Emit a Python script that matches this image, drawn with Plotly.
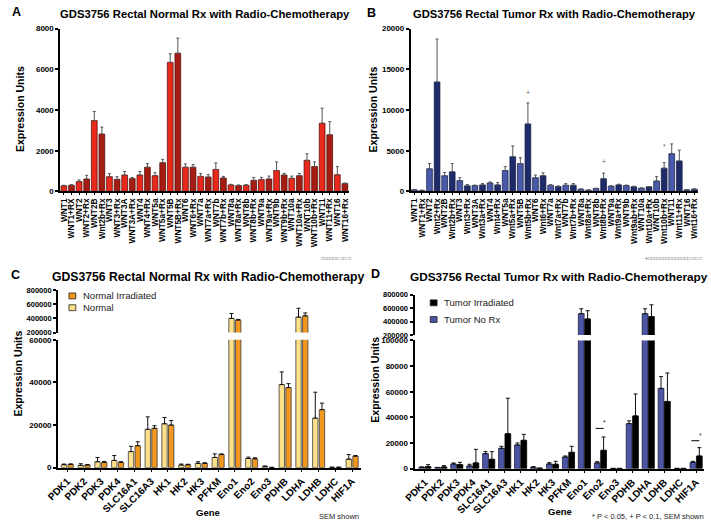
import plotly.graph_objects as go

W, H = 711, 527
def px(p): return p / W
def py(p): return 1 - p / H

# ---------------- data ----------------
A_labels = ["WNT1", "WNT1+RX", "WNT2", "WNT2+Rx", "WNT2B", "Wnt2b+Rx", "WNT3", "WNT3+Rx", "WNT3A", "WNT3A+Rx",
            "WNT4", "WNT4+Rx", "WNT5a", "WNT5a+Rx", "WNT5B", "WNT5B+Rx", "WNT6", "WNT6+Rx", "WNT7a", "WNT7a+Rx",
            "WNT7b", "WNT7b+Rx", "WNT8a", "WNT8a+Rx", "WNT8b", "WNT8b+Rx", "WNT9a", "WNT9a+Rx", "WNT9b", "WNT9b+Rx",
            "WNT10a", "WNT10a+Rx", "WNT10b", "WNT10b+Rx", "WNT11", "WNT11+Rx", "WNT16", "WNT16+Rx"]
A_vals = [275, 305, 485, 610, 3480, 2820, 725, 595, 805, 630, 805, 1190, 775, 1415, 6340, 6790, 1190, 1190, 740, 710,
          1080, 660, 320, 290, 305, 545, 580, 610, 1030, 805, 645, 775, 1530, 1225, 3350, 2785, 820, 385]
A_sem = [30, 30, 80, 180, 450, 340, 145, 130, 175, 50, 175, 175, 145, 160, 420, 740, 160, 130, 145, 115,
         320, 80, 30, 30, 30, 145, 110, 145, 420, 80, 110, 110, 320, 225, 740, 645, 400, 30]

B_labels = ["WNT1", "WNT1+Rx", "WNT2", "Wnt2+Rx", "WNT2B", "Wnt2b+Rx", "WNT3", "Wnt3+Rx", "WNT3A", "Wnt3a+Rx",
            "WNT4", "Wnt4+Rx", "WNT5a", "Wnt5a+Rx", "WNT5B", "Wnt5b+Rx", "WNT6", "Wnt6+Rx", "WNT7a", "Wnt7a+Rx",
            "WNT7b", "Wnt7b+Rx", "WNT8a", "Wnt8a+Rx", "WNT8b", "Wnt8b+Rx", "WNT9a", "Wnt9a+Rx", "WNT9b", "Wnt9ab+Rx",
            "WNT10a", "Wnt10a+Rx", "WNT10b", "Wnt10b+Rx", "WNT11", "Wnt11+Rx", "WNT16", "Wnt16+Rx"]
B_vals = [200, 120, 2780, 13440, 1930, 2410, 1330, 685, 725, 805, 1045, 805, 2575, 4265, 3420, 8290, 1690, 1930, 765, 605,
          765, 765, 280, 160, 360, 1570, 645, 805, 725, 565, 400, 565, 1290, 2860, 4630, 3745, 200, 280]
B_sem = [40, 40, 645, 5270, 400, 1005, 360, 160, 60, 160, 120, 280, 480, 1330, 725, 2575, 320, 360, 60, 80,
         200, 200, 40, 40, 40, 685, 60, 80, 60, 80, 40, 40, 520, 685, 1205, 1325, 40, 40]
B_marks = ["+", "+", "*"]
B_mark_idx = [15, 25, 33]
B_mark_y = [12190, 3620, 5510]

genes = ["PDK1", "PDK2", "PDK3", "PDK4", "SLC16A1", "SLC16A3", "HK1", "HK2", "HK3", "PFKM",
         "Eno1", "Eno2", "Eno3", "PDHB", "LDHA", "LDHB", "LDHC", "HIF1A"]
C_normal = [1385, 1080, 2770, 3380, 7540, 18000, 20600, 1230, 2000, 4770, 400000, 4300, 615, 39000, 418000, 23230, 150, 4000]
C_normal_sem = [300, 770, 2000, 2310, 2460, 5850, 2940, 460, 770, 1690, 69000, 620, 100, 5950, 125000, 12200, 50, 2150]
C_irr = [1540, 1230, 2460, 2460, 10300, 18460, 20000, 1385, 2000, 6150, 377000, 4150, 100, 37600, 436000, 27230, 150, 5380]
C_irr_sem = [200, 200, 460, 310, 1850, 1240, 2150, 200, 300, 300, 9000, 460, 50, 1850, 41000, 3070, 50, 310]

D_norx = [1040, 780, 3640, 2080, 11700, 15840, 18440, 1040, 3640, 9090, 517000, 4420, 150, 35100, 517000, 62600, 150, 4940]
D_norx_sem = [300, 200, 760, 1300, 1550, 1560, 1560, 520, 1040, 780, 73000, 1030, 50, 2200, 73000, 9200, 50, 760]
D_irr = [1560, 1300, 3120, 4420, 7270, 27270, 22080, 300, 3380, 12730, 438000, 14290, 150, 41150, 473000, 52400, 150, 9870]
D_irr_sem = [1560, 1040, 1780, 10640, 5980, 27670, 4670, 100, 2330, 4670, 123000, 10390, 50, 17090, 176000, 22200, 50, 6490]
D_sig_idx = [11, 17]
D_sig_y = [31400, 21760]

A_ticks = [0, 2000, 4000, 6000, 8000]
B_ticks = [0, 5000, 10000, 15000, 20000]
C_low_ticks = [0, 20000, 40000, 60000]
D_low_ticks = [0, 20000, 40000, 60000, 80000, 100000]
up_ticks = [200000, 400000, 600000, 800000]

# ---------------- style ----------------
FONT = "Liberation Sans, Arial, sans-serif"
RED, DRED = "#e8291c", "#a41c12"
BLUE_L, BLUE_D = "#4a5aa8", "#1f2b68"
YEL, ORG = "#fde08a", "#f2981e"
TBLUE, TBLK = "#4b55a3", "#000000"

fig = go.Figure()

def ebar(sem, color, w=1.5):
    return dict(type="data", array=sem, arrayminus=[0] * len(sem), symmetric=False,
                color=color, thickness=1, width=w)

nA = len(A_labels)
fig.add_trace(go.Bar(x=list(range(nA)), y=A_vals, xaxis="x", yaxis="y", width=0.76,
                     marker=dict(color=[DRED if "+" in l else RED for l in A_labels],
                                 line=dict(color="#4a0805", width=0.7)),
                     error_y=ebar(A_sem, "#555555"), showlegend=False, name="A"))
nB = len(B_labels)
fig.add_trace(go.Bar(x=list(range(nB)), y=B_vals, xaxis="x2", yaxis="y2", width=0.76,
                     marker=dict(color=[BLUE_D if "+" in l else BLUE_L for l in B_labels],
                                 line=dict(color="#101a45", width=0.7)),
                     error_y=ebar(B_sem, "#555555"), showlegend=False, name="B"))

xg = list(range(len(genes)))
for ya in ["y3", "y4"]:
    fig.add_trace(go.Bar(x=xg, y=C_normal, xaxis="x3", yaxis=ya, width=0.32, offset=-0.36,
                         marker=dict(color=YEL, line=dict(color="#3a3a3a", width=0.8)),
                         error_y=ebar(C_normal_sem, "#111111", 2), name="Normal", showlegend=False))
    fig.add_trace(go.Bar(x=xg, y=C_irr, xaxis="x3", yaxis=ya, width=0.32, offset=0.04,
                         marker=dict(color=ORG, line=dict(color="#3a3a3a", width=0.8)),
                         error_y=ebar(C_irr_sem, "#111111", 2), name="Normal Irradiated", showlegend=False))
for ya in ["y5", "y6"]:
    fig.add_trace(go.Bar(x=xg, y=D_norx, xaxis="x4", yaxis=ya, width=0.36, offset=-0.38,
                         marker=dict(color=TBLUE, line=dict(color="#1a1d40", width=0.8)),
                         error_y=ebar(D_norx_sem, "#111111", 2), name="Tumor No Rx", showlegend=False))
    fig.add_trace(go.Bar(x=xg, y=D_irr, xaxis="x4", yaxis=ya, width=0.36, offset=0.02,
                         marker=dict(color=TBLK, line=dict(color="#000000", width=0.8)),
                         error_y=ebar(D_irr_sem, "#111111", 2), name="Tumor Irradiated", showlegend=False))

def yax(dom, rng, tv, anchor, lw=1.5, size=8):
    return dict(domain=dom, range=rng, tickvals=tv, ticktext=[str(v) for v in tv], anchor=anchor,
                showline=True, linecolor="black", linewidth=lw, ticks="outside", ticklen=3,
                tickwidth=lw, tickcolor="black", showgrid=False, zeroline=False,
                tickfont=dict(family=FONT, size=size, color="black", weight="bold"))
def xax(dom, rng, labels, anchor, angle, size, lw=1.5):
    return dict(domain=dom, range=rng, tickvals=list(range(len(labels))), ticktext=labels, anchor=anchor,
                tickangle=angle, showline=True, linecolor="black", linewidth=lw, ticks="outside",
                ticklen=2, tickwidth=1, tickcolor="black", showgrid=False, zeroline=False,
                tickfont=dict(family=FONT, size=size, color="black", weight="bold"))

fig.update_layout(
    width=W, height=H, margin=dict(l=0, r=0, t=0, b=0),
    paper_bgcolor="white", plot_bgcolor="white", barmode="overlay", showlegend=False,
    font=dict(family=FONT, color="black"),
    xaxis=xax([px(49), px(343)], [-0.5, nA - 0.5], A_labels, "y", -90, 8.3),
    yaxis=yax([py(190.7), py(25)], [0, 8000], A_ticks, "x"),
    xaxis2=xax([px(406), px(699)], [-0.5, nB - 0.5], B_labels, "y2", -90, 8.3),
    yaxis2=yax([py(190.7), py(25)], [0, 20000], B_ticks, "x2"),
    xaxis3=xax([px(47), px(355)], [-0.55, 17.5], genes, "y3", -45, 10, 2),
    yaxis3=yax([py(471.7), py(341.7)], [0, 60000], C_low_ticks, "x3", 2, 8),
    yaxis4=yax([py(334.3), py(291)], [200000, 800000], up_ticks, "x3", 2, 7.5),
    xaxis4=xax([px(410), px(705)], [-0.65, 17.5], genes, "y5", -45, 10, 2),
    yaxis5=yax([py(472.7), py(342.3)], [0, 100000], D_low_ticks, "x4", 2, 8),
    yaxis6=yax([py(336.7), py(295.7)], [200000, 800000], up_ticks, "x4", 2, 7.5),
)

ann = []
def t(x, y, text, size, bold=True, angle=0, xanchor="center", color="black"):
    ann.append(dict(x=px(x), y=py(y), xref="paper", yref="paper", text=text, showarrow=False,
                    textangle=angle, xanchor=xanchor, yanchor="middle",
                    font=dict(family=FONT, size=size, color=color, weight="bold" if bold else "normal")))

t(5, 8, "A", 12.5)
t(197, 10, "GDS3756 Rectal Normal Rx with Radio-Chemotherapy", 11.3)
t(366, 9, "B", 12.5)
t(553, 10, "GDS3756 Rectal Tumor Rx with Radio-Chemotherapy", 11.2)
t(4, 276, "C", 12.5)
t(200, 278, "GDS3756 Rectal Normal Rx with Radio-Chemotherapy", 12.2)
t(370, 275, "D", 12.5)
t(557, 278, "GDS3756 Rectal Tumor Rx with Radio-Chemotherapy", 11.8)
t(8, 107, "Expression Units", 10.5, angle=-90)
t(368, 107, "Expression Units", 10.5, angle=-90)
t(6, 376, "Expression Units", 10.5, angle=-90)
t(370, 382, "Expression Units", 10.5, angle=-90)
t(200, 517, "Gene", 9.5)
t(558, 516, "Gene", 9.5)
t(356, 521, "SEM shown", 7.5, bold=False, xanchor="right", color="#222")
t(707, 521, "* P < 0.05, + P < 0.1, SEM shown", 7.5, bold=False, xanchor="right", color="#222")
t(347, 258, "□□□□□□ □□ □", 5, bold=False, xanchor="right", color="#555")
t(705, 258, "+□□□□□□□□□□□□□□ □□ □", 5, bold=False, xanchor="right", color="#555")

# legends (C and D)
shapes = []
def leg(x, y, color, label):
    shapes.append(dict(type="rect", xref="paper", yref="paper", x0=px(x), x1=px(x + 7),
                       y0=py(y + 3), y1=py(y - 3), fillcolor=color, line=dict(color="#222", width=0.8)))
    t(x + 12, y, label, 9.5, bold=False, xanchor="left", color="#222")
leg(58, 297, ORG, "Normal Irradiated")
leg(58, 309, YEL, "Normal")
leg(426, 304, TBLK, "Tumor Irradiated")
leg(426, 321, TBLUE, "Tumor No Rx")

# significance markers B
for m, i, yv in zip(B_marks, B_mark_idx, B_mark_y):
    ann.append(dict(x=i, y=yv, xref="x2", yref="y2", text=m, showarrow=False, yanchor="middle",
                    font=dict(family=FONT, size=7, color="#666")))
# significance brackets D
for i, yv in zip(D_sig_idx, D_sig_y):
    shapes.append(dict(type="line", xref="x4", yref="y5", x0=i - 0.3, x1=i + 0.2, y0=yv, y1=yv,
                       line=dict(color="black", width=1)))
    ann.append(dict(x=i + 0.25, y=yv, xref="x4", yref="y5", text="*", showarrow=False, yanchor="bottom",
                    font=dict(family=FONT, size=7, color="#333")))

fig.update_layout(annotations=ann, shapes=shapes)
fig.write_html("out.html", config={"displayModeBar": False},
               post_script="document.body.style.margin='0';document.body.style.overflow='hidden';")
